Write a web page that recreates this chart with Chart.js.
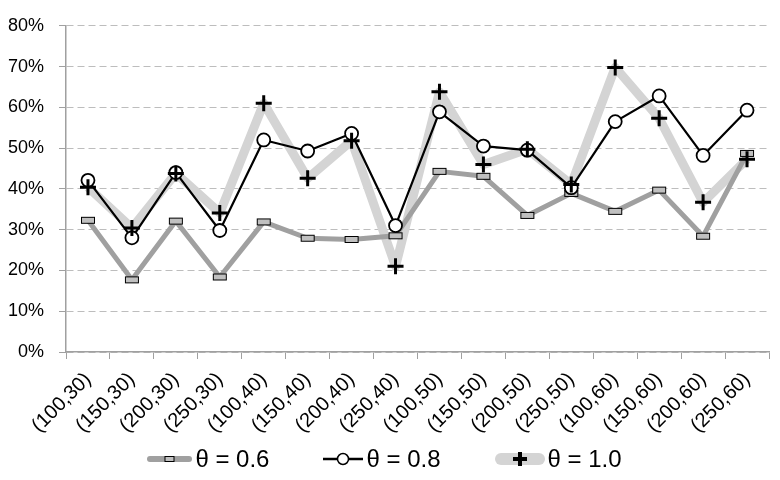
<!DOCTYPE html>
<html>
<head>
<meta charset="utf-8">
<script src="https://cdn.jsdelivr.net/npm/chart.js@4"></script>
<style>
  body { margin: 0; background: #fff; }
  #wrap { position: relative; width: 780px; height: 480px; }
  #legend {
    position: absolute; left: 0; width: 769px; top: 444px; height: 30px;
    display: flex; justify-content: center; align-items: center;
    font-family: "Liberation Sans", Arial, sans-serif; font-size: 24px; color: #000;
  }
  .item { display: flex; align-items: center; margin: 0 27px; }
  .item svg { margin-right: 3px; }
</style>
</head>
<body>
<div id="wrap">
  <canvas id="theta_chart" width="780" height="480"></canvas>
  <div id="legend">
    <div class="item">
      <svg width="45" height="14"><line x1="3" y1="7" x2="42" y2="7" stroke="#a0a0a0" stroke-width="6" stroke-linecap="round"/><rect x="18" y="4.5" width="9" height="5" fill="#c0c0c0" stroke="#000" stroke-width="1"/></svg>
      <span>θ = 0.6</span>
    </div>
    <div class="item">
      <svg width="40" height="14"><line x1="0" y1="7" x2="40" y2="7" stroke="#000" stroke-width="2.5"/><circle cx="20" cy="7" r="5.5" fill="#fff" stroke="#000" stroke-width="1.5"/></svg>
      <span>θ = 0.8</span>
    </div>
    <div class="item">
      <svg width="50" height="16"><line x1="6" y1="8" x2="44" y2="8" stroke="#d4d4d4" stroke-width="12" stroke-linecap="round"/><line x1="18" y1="8" x2="32" y2="8" stroke="#000" stroke-width="4"/><line x1="25" y1="1" x2="25" y2="15" stroke="#000" stroke-width="4"/></svg>
      <span>θ = 1.0</span>
    </div>
  </div>
</div>
<script>
// categories (window size, threshold)
const labels = ['(100,30)', '(150,30)', '(200,30)', '(250,30)',
                '(100,40)', '(150,40)', '(200,40)', '(250,40)',
                '(100,50)', '(150,50)', '(200,50)', '(250,50)',
                '(100,60)', '(150,60)', '(200,60)', '(250,60)']

// values, as fractions
const theta06 = [0.323, 0.177, 0.321, 0.184, 0.319, 0.279, 0.276, 0.285,
                 0.443, 0.431, 0.335, 0.389, 0.345, 0.397, 0.284, 0.487]
const theta08 = [0.421, 0.280, 0.440, 0.298, 0.520, 0.493, 0.536, 0.310,
                 0.589, 0.505, 0.495, 0.403, 0.565, 0.628, 0.482, 0.593]
const theta10 = [0.404, 0.304, 0.438, 0.341, 0.610, 0.426, 0.518, 0.210,
                 0.638, 0.460, 0.497, 0.411, 0.698, 0.573, 0.367, 0.473]

const yTicks = [0, 0.1, 0.2, 0.3, 0.4, 0.5, 0.6, 0.7, 0.8]

// small flat box used as the marker of theta = 0.6
function rectMarker() {
  const c = document.createElement('canvas')
  c.width = 16
  c.height = 9
  const ctx = c.getContext('2d')
  ctx.fillStyle = '#c0c0c0'
  ctx.fillRect(1, 1, 14, 7)
  ctx.strokeStyle = '#000'
  ctx.lineWidth = 1
  ctx.strokeRect(1.5, 1.5, 13, 6)
  return c
}

const lineOnly = { pointRadius: 0, pointHoverRadius: 0, tension: 0, borderJoinStyle: 'round' }
const markOnly = { showLine: false }

const data = {
  labels: labels,
  datasets: [
    // lines first (drawn below)
    Object.assign({ label: 'θ = 1.0 line', data: theta10, borderColor: '#d4d4d4', borderWidth: 9, order: 6 }, lineOnly),
    Object.assign({ label: 'θ = 0.6 line', data: theta06, borderColor: '#a0a0a0', borderWidth: 5, order: 5 }, lineOnly),
    Object.assign({ label: 'θ = 0.8 line', data: theta08, borderColor: '#000', borderWidth: 2.2, order: 4 }, lineOnly),
    // markers on top
    Object.assign({ label: 'θ = 0.6', data: theta06, pointStyle: rectMarker(), pointRadius: 6, order: 3 }, markOnly),
    Object.assign({ label: 'θ = 0.8', data: theta08, pointStyle: 'circle', pointRadius: 6.5,
      pointBackgroundColor: '#fff', pointBorderColor: '#000', pointBorderWidth: 1.8, order: 2 }, markOnly),
    Object.assign({ label: 'θ = 1.0', data: theta10, pointStyle: 'cross', pointRadius: 8,
      pointBorderColor: '#000', pointBorderWidth: 3, order: 1 }, markOnly)
  ]
}

const config = {
  type: 'line',
  data: data,
  options: {
    responsive: false,
    animation: false,
    devicePixelRatio: 1,
    layout: { padding: { top: 17, right: 11, bottom: 43, left: 0 } },
    plugins: { legend: { display: false }, tooltip: { enabled: false } },
    scales: {
      x: {
        offset: true,
        grid: { offset: true, drawOnChartArea: false, tickLength: 7, color: '#a0a0a0' },
        border: { color: '#a0a0a0', width: 1.5 },
        ticks: {
          minRotation: 45, maxRotation: 45, padding: 9, color: '#000',
          font: { family: 'Liberation Sans', size: 20 }
        },
        afterFit: (s) => { s.height = 85 }
      },
      y: {
        min: 0, max: 0.8,
        afterBuildTicks: (s) => { s.ticks = yTicks.map(v => ({ value: v })) },
        grid: { color: '#bdbdbd', lineWidth: 1, tickLength: 7, tickColor: '#a0a0a0', tickBorderDash: [] },
        border: { color: '#a0a0a0', width: 1.5, dash: [7, 4] },
        ticks: {
          padding: 15, color: '#000',
          font: { family: 'Liberation Sans', size: 18 },
          callback: (v) => Math.round(v * 100) + '%'
        },
        afterFit: (s) => { s.width = 66 }
      }
    }
  }
}

const thetaChart = new Chart(document.getElementById('theta_chart'), config)
</script>
</body>
</html>
